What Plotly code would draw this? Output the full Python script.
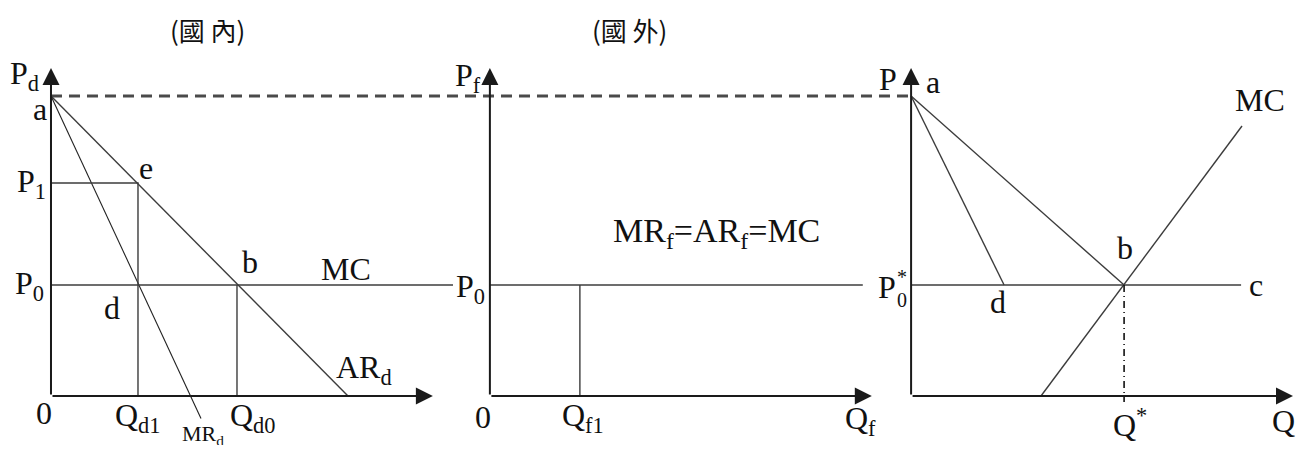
import plotly.graph_objects as go

#%% Dados (preço e quantidade em unidades do gráfico)

# painel 1 - (國內)
p_a = 10.0          # ponto a (intercepto)
p_1 = 7.1
p_0 = 3.7
q_d1 = 2.9
q_d0 = 6.2
ar_d_q = [0, 9.9]
ar_d_p = [p_a, 0]
mr_d_q = [0, 5.0]
mr_d_p = [p_a, -0.75]
mc_d_end = 13.4

# painel 2 - (國外)
q_f1 = 3.0
mc_f_end = 12.43

# painel 3 - mercado total
q_d = 3.1
q_star = 7.1
q_c = 11.0
mc_q = [4.33, 11.03]
mc_p = [0, 9.0]

# eixos (comprimento das setas)
eixo_q = 12.73
eixo_p = 10.93

#%% Posição das origens de cada painel

origem = [0, 14.63, 28.67]

fig = go.Figure()


def linha(painel, xs, ys, width=1.4, color="#3c3c3c", dash="solid"):
    fig.add_trace(go.Scatter(
        x=[origem[painel] + x for x in xs], y=ys,
        mode="lines", line=dict(width=width, color=color, dash=dash),
        hoverinfo="skip", showlegend=False))


def rotulo(painel, x, y, texto, size=32, xanchor="center", yanchor="middle",
           family="Liberation Serif"):
    fig.add_annotation(x=origem[painel] + x, y=y, text=texto, showarrow=False,
                       xanchor=xanchor, yanchor=yanchor,
                       font=dict(family=family, size=size, color="#111111"))


#%% Linha tracejada do ponto a

linha(0, [0, origem[2]], [p_a, p_a], width=3, color="#4a4a4a", dash="11px,7px")

#%% Painel 1

linha(0, ar_d_q, ar_d_p)
linha(0, mr_d_q, mr_d_p, width=1.1, color="#222222")
linha(0, [0, mc_d_end], [p_0, p_0])
linha(0, [0, q_d1, q_d1], [p_1, p_1, 0])
linha(0, [q_d0, q_d0], [0, p_0])

#%% Painel 2

linha(1, [0, mc_f_end], [p_0, p_0])
linha(1, [q_f1, q_f1], [0, p_0])

#%% Painel 3

linha(2, [0, q_star], [p_a, p_0])
linha(2, [0, q_d], [p_a, p_0])
linha(2, [0, q_c], [p_0, p_0])
linha(2, mc_q, mc_p)
linha(2, [q_star, q_star], [p_0, -0.2], width=1.6, color="#111111", dash="7px,4px,1px,4px")

#%% Eixos com setas

for painel in range(3):
    for tip_x, tip_y in [(eixo_q, 0), (0, eixo_p)]:
        fig.add_annotation(
            x=origem[painel] + tip_x, y=tip_y,
            ax=origem[painel], ay=0, axref="x", ayref="y",
            showarrow=True, arrowhead=2, arrowsize=1.7, arrowwidth=2,
            arrowcolor="#1a1a1a", standoff=0, text="")

#%% Rótulos

# painel 1
rotulo(0, 5.23, 12.2, "(國 內)", size=26, family="Noto Sans CJK TC")
rotulo(0, -0.87, 10.68, "P<sub>d</sub>")
rotulo(0, -0.37, 9.55, "a")
rotulo(0, -0.1, p_1, "P<sub>1</sub>", xanchor="right")
rotulo(0, 3.17, 7.6, "e")
rotulo(0, -0.15, p_0, "P<sub>0</sub>", xanchor="right")
rotulo(0, 6.63, 4.47, "b")
rotulo(0, 9.83, 4.23, "MC")
rotulo(0, 2.03, 2.93, "d")
rotulo(0, 10.43, 0.87, "AR<sub>d</sub>")
rotulo(0, -0.23, -0.57, "0")
rotulo(0, q_d1, -0.73, "Q<sub>d1</sub>")
rotulo(0, 5.07, -1.3, "MR<sub>d</sub>", size=22)
rotulo(0, 6.73, -0.73, "Q<sub>d0</sub>")

# painel 2
rotulo(1, 4.67, 12.2, "(國 外)", size=26, family="Noto Sans CJK TC")
rotulo(1, -0.73, 10.6, "P<sub>f</sub>")
rotulo(1, -0.1, 3.6, "P<sub>0</sub>", xanchor="right")
rotulo(1, 7.57, 5.43, "MR<sub>f</sub>=AR<sub>f</sub>=MC", size=34)
rotulo(1, -0.23, -0.7, "0")
rotulo(1, 3.1, -0.73, "Q<sub>f1</sub>")
rotulo(1, 12.37, -0.83, "Q<sub>f</sub>")

# painel 3
rotulo(2, -0.77, 10.57, "P")
rotulo(2, 0.73, 10.47, "a")
rotulo(2, 11.63, 9.87, "MC")
rotulo(2, 7.13, 4.93, "b")
rotulo(2, 11.5, 3.7, "c")
rotulo(2, 2.9, 3.13, "d")
rotulo(2, -0.45, 3.63, "P", xanchor="right")
rotulo(2, -0.3, 3.97, "*", size=20)
rotulo(2, -0.3, 3.2, "0", size=20)
rotulo(2, 7.3, -0.9, "Q<sup>*</sup>")
rotulo(2, 12.4, -0.83, "Q")

#%% Layout
# a página tem margem de 8px no body: a figura é menor e as faixas compensam

fig.update_layout(
    width=1290, height=437,
    margin=dict(l=0, r=0, t=0, b=0),
    paper_bgcolor="white", plot_bgcolor="white",
    xaxis=dict(range=[-1.433, 41.567], visible=False, fixedrange=True),
    yaxis=dict(range=[-1.633, 12.933], visible=False, fixedrange=True),
    showlegend=False,
)

fig.write_html("out.html")
